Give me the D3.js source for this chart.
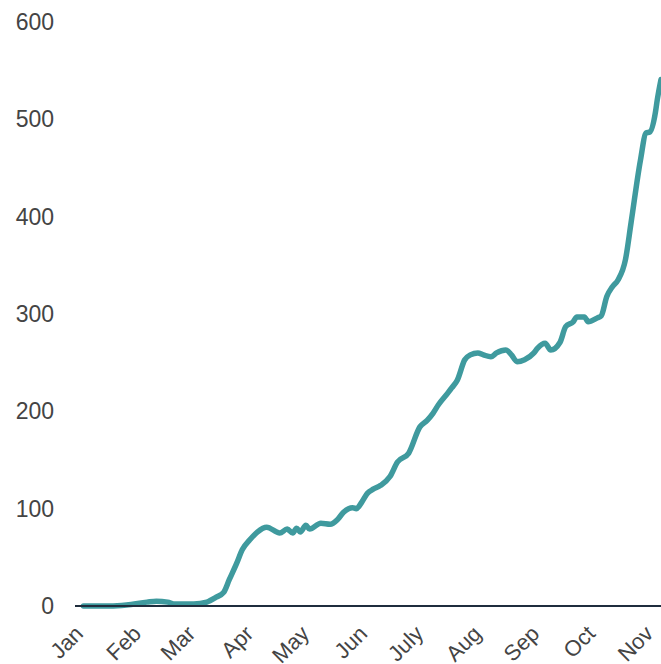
<!DOCTYPE html>
<html>
<head>
<meta charset="utf-8">
<script src="https://cdn.jsdelivr.net/npm/d3@7"></script>
<style>
  html, body { margin: 0; padding: 0; background: #fff; }
  svg { display: block; }
  text { font-family: "Liberation Sans", Arial, sans-serif; }
</style>
</head>
<body>
<svg id="chart" width="661" height="664"></svg>
<script>
// ---- data ----
const dates = [
  "2020-01-05","2020-01-19","2020-01-28","2020-02-08","2020-02-13","2020-02-19","2020-02-23",
  "2020-03-04","2020-03-11","2020-03-16","2020-03-20","2020-03-23","2020-03-27","2020-03-30",
  "2020-04-03","2020-04-07","2020-04-12","2020-04-19","2020-04-23","2020-04-26","2020-04-28",
  "2020-04-30","2020-05-03","2020-05-05","2020-05-11","2020-05-16","2020-05-20","2020-05-23",
  "2020-05-28","2020-05-30","2020-06-02","2020-06-05","2020-06-08","2020-06-12","2020-06-17",
  "2020-06-21","2020-06-27","2020-07-03","2020-07-07","2020-07-10","2020-07-13","2020-07-18",
  "2020-07-20","2020-07-23","2020-07-27","2020-07-30","2020-08-03","2020-08-06","2020-08-10",
  "2020-08-13","2020-08-18","2020-08-21","2020-08-24","2020-08-28","2020-09-02","2020-09-04",
  "2020-09-08","2020-09-11","2020-09-16","2020-09-19","2020-09-23","2020-09-25","2020-09-29",
  "2020-10-01","2020-10-06","2020-10-08","2020-10-11","2020-10-14","2020-10-17","2020-10-21",
  "2020-10-24","2020-10-29","2020-11-01","2020-11-03","2020-11-06","2020-11-07","2020-11-09"
];
const values = [
  0, 0, 1, 4, 5, 4, 2,
  2, 4, 9, 14, 27, 44, 58,
  68, 76, 81, 75, 79, 75, 80,
  76, 83, 79, 85, 84, 89, 96,
  101, 100, 107, 116, 120, 124, 133,
  148, 157, 184, 191, 198, 207, 219,
  224, 232, 253, 258, 260, 258, 256,
  260, 263, 258, 251, 253, 260, 265,
  270, 263, 271, 287, 292, 297, 297,
  292, 296, 298, 318, 328, 335, 356,
  394, 458, 486, 487, 507, 520, 541
];
const yTicks = [0, 100, 200, 300, 400, 500, 600];
const monthLabels = ["Jan","Feb","Mar","Apr","May","Jun","July","Aug","Sep","Oct","Nov"];
const xStart = "2020-01-01";
const xEnd = "2020-11-09";

// ---- chart ----
const parse = d3.timeParse("%Y-%m-%d");
const data = dates.map((d, i) => ({ date: parse(d), value: values[i] }));

const svg = d3.select("#chart");
const x = d3.scaleTime().domain([parse(xStart), parse(xEnd)]).range([76, 661]);
const y = d3.scaleLinear().domain([0, 600]).range([606, 22]);

// y labels
svg.append("g")
  .selectAll("text")
  .data(yTicks)
  .join("text")
  .attr("x", 54)
  .attr("y", d => y(d))
  .attr("dy", "0.35em")
  .attr("text-anchor", "end")
  .attr("fill", "#444")
  .style("font-size", "23px")
  .text(d => d);

// line
const line = d3.line()
  .x(d => x(d.date))
  .y(d => y(d.value))
  .curve(d3.curveMonotoneX);

svg.append("path")
  .datum(data)
  .attr("fill", "none")
  .attr("stroke", "#3f9a9e")
  .attr("stroke-width", 5.5)
  .attr("stroke-linejoin", "round")
  .attr("stroke-linecap", "round")
  .attr("d", line);

// x axis baseline
const xAxis = d3.axisBottom(x)
  .tickValues(monthLabels.map((m, i) => new Date(2020, i, 1)))
  .tickSize(0)
  .tickFormat((d, i) => monthLabels[i]);

const gx = svg.append("g")
  .attr("transform", `translate(0,${y(0)})`)
  .call(xAxis);
gx.select(".domain")
  .attr("stroke", "#1f2d3d")
  .attr("stroke-width", 2)
  .attr("d", `M75,0H661`);
gx.selectAll(".tick text")
  .attr("fill", "#444")
  .style("font-size", "22px")
  .style("font-family", "'Liberation Sans', Arial, sans-serif")
  .attr("text-anchor", "end")
  .attr("x", 0)
  .attr("y", 0)
  .attr("dy", 0)
  .attr("transform", "translate(8,29) rotate(-45)");
</script>
</body>
</html>
